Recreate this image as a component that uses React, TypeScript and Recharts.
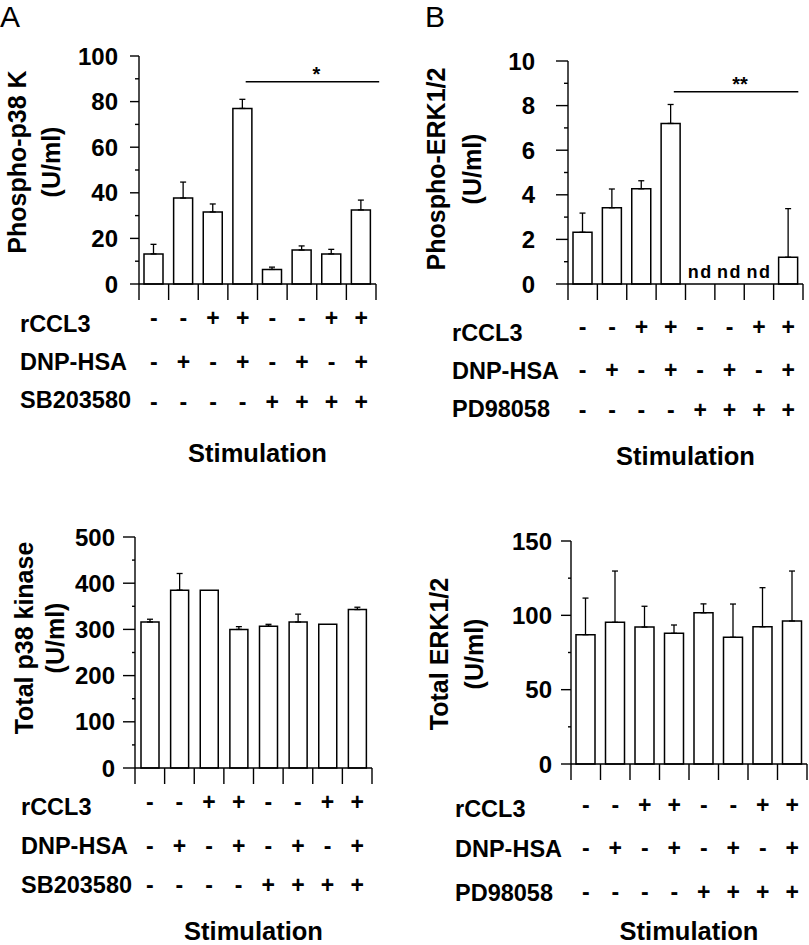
import React from "react";
import { Bar, BarChart, ErrorBar, ReferenceLine, XAxis, YAxis } from "recharts";

const FONT = '"Liberation Sans", Arial, Helvetica, sans-serif';

// stimulation conditions (8 groups)
const conditions = ["1", "2", "3", "4", "5", "6", "7", "8"];
const rCCL3 = ["-", "-", "+", "+", "-", "-", "+", "+"];
const dnpHsa = ["-", "+", "-", "+", "-", "+", "-", "+"];
const inhibitor = ["-", "-", "-", "-", "+", "+", "+", "+"];

// A: phospho-p38 kinase (U/ml)
const phosphoP38 = [13.2, 37.7, 31.6, 77, 6.4, 14.9, 13.2, 32.5];
const phosphoP38Err = [4.2, 7, 3.5, 4, 1, 1.8, 2, 4.3];
const phosphoP38Ticks = [0, 10, 20, 30, 40, 50, 60, 70, 80, 90, 100];

// B: phospho-ERK1/2 (U/ml), null = not detected
const phosphoErk = [2.32, 3.42, 4.27, 7.2, null, null, null, 1.2];
const phosphoErkErr = [0.86, 0.84, 0.36, 0.85, null, null, null, 2.18];
const phosphoErkTicks = [0, 1, 2, 3, 4, 5, 6, 7, 8, 9, 10];

// C: total p38 kinase (U/ml)
const totalP38 = [316, 385, 385, 300, 307, 316, 311, 343];
const totalP38Err = [6, 36, null, 6, 4, 17, null, 5];
const totalP38Ticks = [0, 50, 100, 150, 200, 250, 300, 350, 400, 450, 500];

// D: total ERK1/2 (U/ml)
const totalErk = [87, 95.3, 92.1, 87.9, 101.7, 85.2, 92.3, 96.2];
const totalErkErr = [24.6, 34.5, 14, 5.6, 6, 22.4, 26.3, 33.6];
const totalErkTicks = [0, 25, 50, 75, 100, 125, 150];

type Panel = {
  left: number;
  top: number;
  width: number;
  height: number;
  plotLeft: number;
  plotRight: number;
  plotTop: number;
  plotBottom: number;
  ticks: number[];
  major: number;
  majorLen: number;
  minorLen: number;
  gap: number;
  barSize: number;
  values: (number | null)[];
  errs: (number | null)[];
  title: string[];
  titleX: number[];
  titleY: number;
  inhibitorName: string;
  labelX: number;
  labelRows: number[];
  signRows: number[];
  stimY: number;
  sig?: { y: number; text: string; dx1: number; dx2: number };
};

const panels: Panel[] = [
  {
    left: 0, top: 0, width: 400, height: 470,
    plotLeft: 139, plotRight: 376, plotTop: 56, plotBottom: 284,
    ticks: phosphoP38Ticks, major: 20, majorLen: 9, minorLen: 4, gap: 12, barSize: 19,
    values: phosphoP38, errs: phosphoP38Err,
    title: ["Phospho-p38 K", "(U/ml)"], titleX: [17, 51], titleY: 162,
    inhibitorName: "SB203580", labelX: 20,
    labelRows: [40, 78, 116], signRows: [34, 78, 118], stimY: 169,
    sig: { y: 88.7, text: "*", dx1: 3, dx2: 18 },
  },
  {
    left: 400, top: 0, width: 409, height: 470,
    plotLeft: 168, plotRight: 403, plotTop: 61, plotBottom: 284,
    ticks: phosphoErkTicks, major: 2, majorLen: 12, minorLen: 4, gap: 21, barSize: 19,
    values: phosphoErk, errs: phosphoErkErr,
    title: ["Phospho-ERK1/2", "(U/ml)"], titleX: [36, 72], titleY: 169,
    inhibitorName: "PD98058", labelX: 52,
    labelRows: [49, 87, 125], signRows: [43, 86, 126], stimY: 172,
    sig: { y: 8.62, text: "**", dx1: 3, dx2: 10 },
  },
  {
    left: 0, top: 470, width: 400, height: 475,
    plotLeft: 135, plotRight: 372, plotTop: 67, plotBottom: 298,
    ticks: totalP38Ticks, major: 100, majorLen: 12, minorLen: 3, gap: 8, barSize: 18,
    values: totalP38, errs: totalP38Err,
    title: ["Total p38 kinase", "(U/ml)"], titleX: [24, 55], titleY: 168,
    inhibitorName: "SB203580", labelX: 21,
    labelRows: [39, 78, 117], signRows: [34, 78, 117], stimY: 163,
  },
  {
    left: 400, top: 470, width: 409, height: 475,
    plotLeft: 171, plotRight: 407, plotTop: 71, plotBottom: 294,
    ticks: totalErkTicks, major: 50, majorLen: 10, minorLen: 3, gap: 9, barSize: 19,
    values: totalErk, errs: totalErkErr,
    title: ["Total ERK1/2", "(U/ml)"], titleX: [39, 74], titleY: 184,
    inhibitorName: "PD98058", labelX: 55,
    labelRows: [45, 85, 129], signRows: [41, 84, 128], stimY: 167,
  },
];

const textStyle = { fontFamily: FONT, fontWeight: 700, fill: "#000" };

function YTick(props: any) {
  const { x, y, payload, p } = props;
  const isMajor = payload.value % p.major === 0;
  const len = isMajor ? p.majorLen : p.minorLen;
  return (
    <g>
      <line x1={x - len} x2={x} y1={y} y2={y} stroke="#000" strokeWidth={1.4} />
      {isMajor && (
        <text x={x - p.majorLen - p.gap} y={y} dy="0.36em" textAnchor="end" fontSize={24} style={textStyle}>
          {payload.value}
        </text>
      )}
    </g>
  );
}

function XTick(props: any) {
  const { x, y, index, p } = props;
  const half = (p.plotRight - p.plotLeft) / conditions.length / 2;
  const rows = [rCCL3, dnpHsa, inhibitor];
  const names = ["rCCL3", "DNP-HSA", p.inhibitorName];
  const cx = (p.plotLeft + p.plotRight) / 2;
  return (
    <g>
      <line x1={x - half} x2={x - half} y1={y} y2={y + 16} stroke="#000" strokeWidth={1.4} />
      {index === conditions.length - 1 && (
        <line x1={x + half} x2={x + half} y1={y} y2={y + 16} stroke="#000" strokeWidth={1.4} />
      )}
      {rows.map((r, i) => (
        <text key={i} x={x} y={y + p.signRows[i]} dy="0.36em" textAnchor="middle" fontSize={23} style={textStyle}>
          {r[index]}
        </text>
      ))}
      {p.values[index] == null && (
        <text x={x} y={y - 6} textAnchor="middle" fontSize={18} letterSpacing={1.5} style={textStyle}>
          nd
        </text>
      )}
      {index === 0 && (
        <g>
          {names.map((n, i) => (
            <text key={n} x={p.labelX} y={y + p.labelRows[i]} dy="0.36em" fontSize={23.5} style={textStyle}>
              {n}
            </text>
          ))}
          <text x={cx} y={y + p.stimY} dy="0.36em" textAnchor="middle" fontSize={25.5} style={textStyle}>
            Stimulation
          </text>
          {p.title.map((t: string, i: number) => (
            <text
              key={t}
              x={p.titleX[i]}
              y={p.titleY}
              dy="0.35em"
              textAnchor="middle"
              fontSize={25}
              transform={`rotate(-90, ${p.titleX[i]}, ${p.titleY})`}
              style={textStyle}
            >
              {t}
            </text>
          ))}
        </g>
      )}
    </g>
  );
}

function SigShape(props: any) {
  const { x1, y1, x2, sig } = props;
  const a = x1 + sig.dx1;
  const b = x2 + sig.dx2;
  return (
    <g>
      <line x1={a} x2={b} y1={y1} y2={y1} stroke="#000" strokeWidth={1.4} />
      <text x={(a + b) / 2 + 4} y={y1 - 1} textAnchor="middle" fontSize={20} style={textStyle}>
        {sig.text}
      </text>
    </g>
  );
}

function PanelChart({ p }: { p: Panel }) {
  const data = conditions.map((c, i) => ({
    cond: c,
    value: p.values[i],
    err: p.errs[i] == null ? null : [0, p.errs[i]],
  }));
  const max = p.ticks[p.ticks.length - 1];
  return (
    <div style={{ position: "absolute", left: p.left, top: p.top }}>
      <BarChart
        width={p.width}
        height={p.height}
        data={data}
        margin={{ top: p.plotTop, right: p.width - p.plotRight, bottom: 0, left: 0 }}
        barCategoryGap={0}
      >
        <XAxis
          dataKey="cond"
          height={p.height - p.plotBottom}
          axisLine={{ stroke: "#000", strokeWidth: 1.4 }}
          tickLine={false}
          tickSize={0}
          tickMargin={0}
          interval={0}
          tick={(t: any) => <XTick {...t} p={p} />}
        />
        <YAxis
          width={p.plotLeft}
          domain={[0, max]}
          ticks={p.ticks}
          interval={0}
          axisLine={{ stroke: "#000", strokeWidth: 1.4 }}
          tickLine={false}
          tickSize={0}
          tickMargin={0}
          tick={(t: any) => <YTick {...t} p={p} />}
        />
        <Bar
          dataKey="value"
          fill="#fff"
          stroke="#000"
          strokeWidth={1.5}
          barSize={p.barSize}
          isAnimationActive={false}
        >
          <ErrorBar dataKey="err" direction="y" width={3} stroke="#000" strokeWidth={1.3} />
        </Bar>
        {p.sig && (
          <ReferenceLine
            segment={[
              { x: "4", y: p.sig.y },
              { x: "8", y: p.sig.y },
            ]}
            shape={(s: any) => <SigShape {...s} sig={p.sig} />}
          />
        )}
      </BarChart>
    </div>
  );
}

export default function App() {
  return (
    <div style={{ position: "absolute", left: 0, top: 0, width: 809, height: 945, background: "#fff" }}>
      <div style={{ position: "absolute", left: 0, top: 0, fontFamily: FONT, fontSize: 30, lineHeight: "34px" }}>A</div>
      <div style={{ position: "absolute", left: 425, top: 0, fontFamily: FONT, fontSize: 30, lineHeight: "34px" }}>B</div>
      {panels.map((p, i) => (
        <PanelChart key={i} p={p} />
      ))}
    </div>
  );
}
